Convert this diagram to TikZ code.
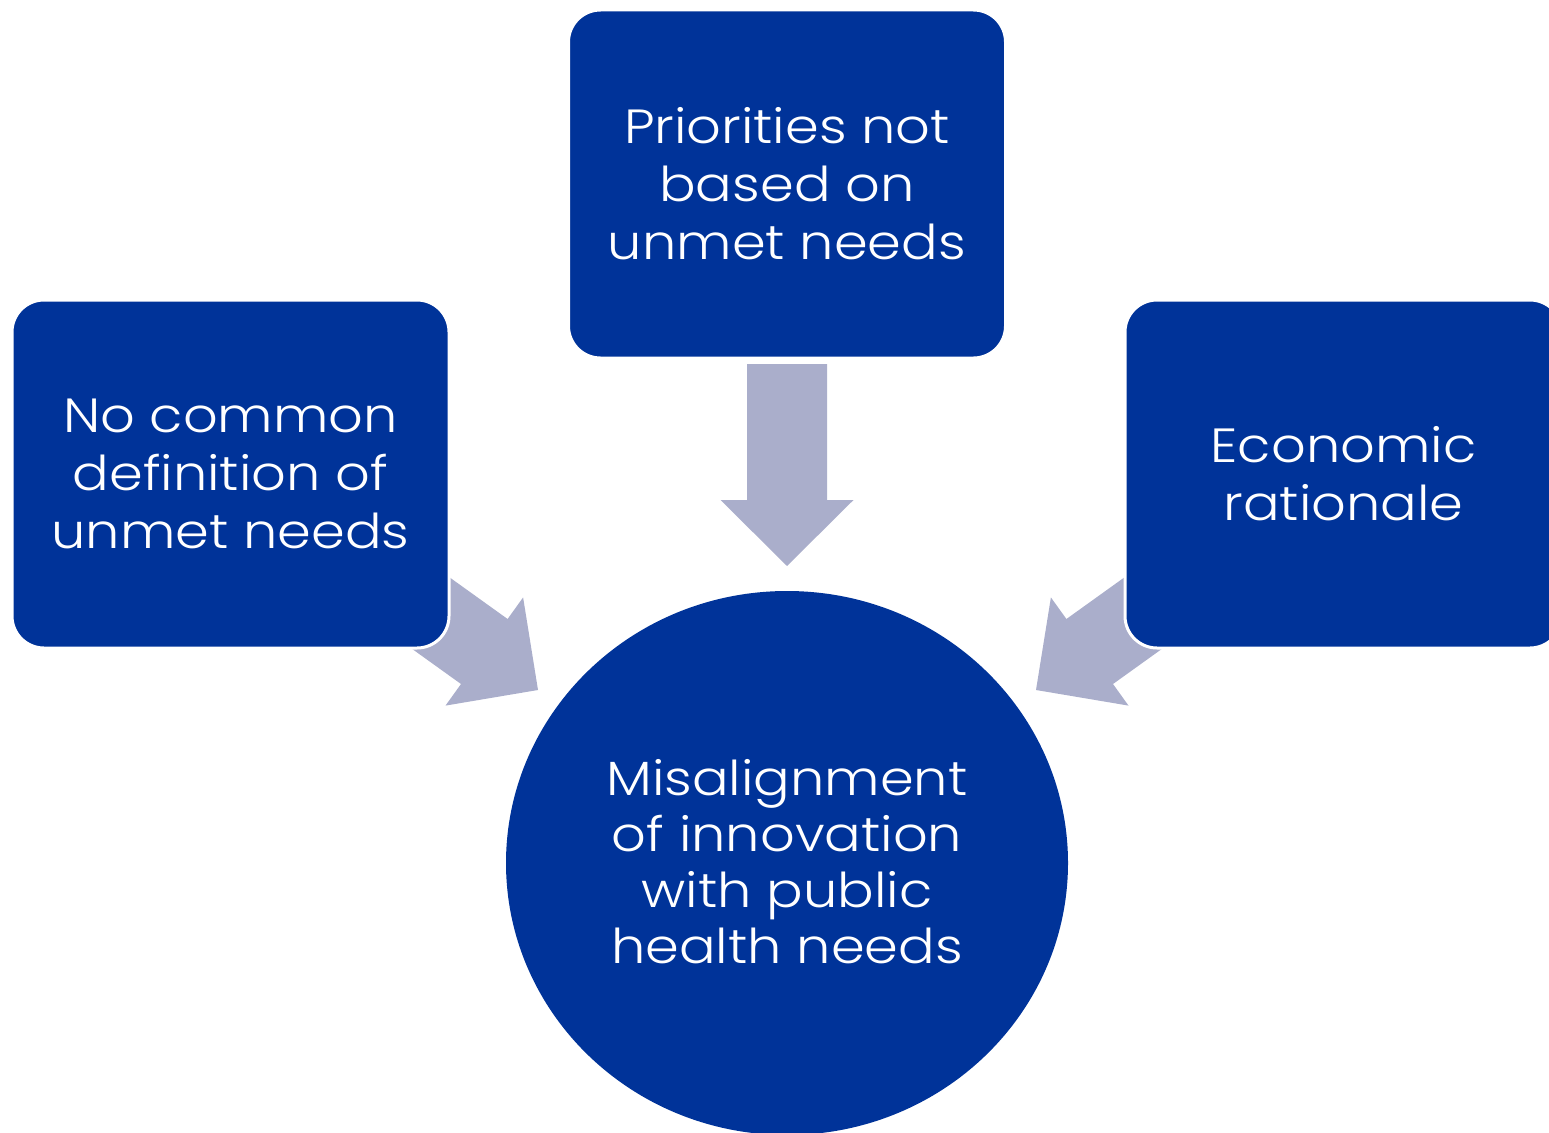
\documentclass[tikz,border=0pt]{standalone}
\usepackage{fontspec}
\setmainfont{Poppins Light}[FakeStretch=1.13]
\definecolor{boxblue}{RGB}{0,51,153}
\definecolor{arrowc}{RGB}{170,174,203}
\begin{document}
\begin{tikzpicture}[x=1pt,y=-1pt,
  box/.style={fill=boxblue, draw=white, line width=3pt, rounded corners=32pt,
    minimum width=437pt, minimum height=348pt, text=white, align=center,
    font=\fontsize{48}{58}\selectfont, inner sep=0pt},
  blockarrow/.style={fill=arrowc, draw=none}]
\useasboundingbox (0,0) rectangle (1549,1132);
\clip (0,0) rectangle (1549,1132);
% block arrows (drawn under the boxes)
\fill[blockarrow] (747,364) -- (827,364) -- (827,500) -- (853.5,500) -- (787,566) -- (720.5,500) -- (747,500) -- cycle;
\fill[blockarrow] (397.1,539.7) -- (507.6,619) -- (523.1,597.4) -- (538,690) -- (445.5,705.6) -- (461,684) -- (350.5,604.7) -- cycle;
\fill[blockarrow] (1176.9,539.7) -- (1066.4,619) -- (1050.9,597.4) -- (1036,690) -- (1128.5,705.6) -- (1113,684) -- (1223.5,604.7) -- cycle;
% nodes
\node[box] (left) at (230.5,474) {No common\\definition of\\unmet needs};
\node[box] (top) at (787,184) {Priorities not\\based on\\unmet needs};
\node[box] (right) at (1343.5,474) {Economic\\rationale};
\path[fill=boxblue] (787,863) ellipse [x radius=281, y radius=272];
\node[text=white, align=center, font=\fontsize{48}{56}\selectfont, inner sep=0pt] (center) at (787,862) {Misalignment\\of innovation\\with public\\health needs};
\end{tikzpicture}
\end{document}
